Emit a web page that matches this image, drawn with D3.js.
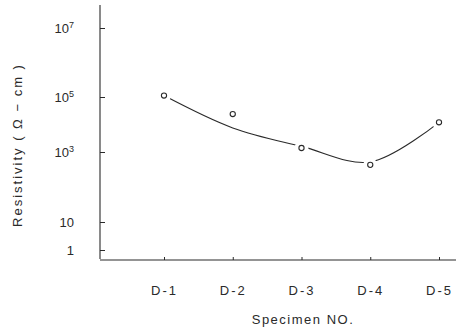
<!DOCTYPE html>
<html><head><meta charset="utf-8">
<script src="https://cdn.jsdelivr.net/npm/d3@7"></script>
<style>body{margin:0;background:#fff}svg{display:block}</style>
</head><body>
<svg id="c" width="462" height="331"></svg>
<script>
const categories = ["D-1","D-2","D-3","D-4","D-5"];
const resistivity = [1.1e5, 2.4e4, 1.4e3, 4.3e2, 1.2e4];
const trend = [1.1e5, 7.5e3, 1.6e3, 5.2e2, 1.2e4];
const yTickValues = [1, 10, 1e3, 1e5, 1e7];
const yTickBase = ["1", "10", "10", "10", "10"];
const yTickExp = ["", "", "3", "5", "7"];
const xTitle = "Specimen NO.";
const yTitle = "Resistivity ( \u03A9 \u2212 cm )";

const svg = d3.select("#c");
const ink = "#2a2a2a";
const font = "Liberation Sans, Arial, sans-serif";

const x = d3.scalePoint().domain(categories).range([164, 439]);
const y = d3.scaleLog().domain([1, 10, 1e3, 1e5, 1e7, 5e7]).range([250, 222, 152, 97, 28, 5]);

// y axis
svg.append("line").attr("x1",100).attr("x2",100).attr("y1",5).attr("y2",259)
  .attr("stroke",ink).attr("stroke-width",1.1);
const ya = svg.append("g").attr("transform","translate(100,0)")
  .call(d3.axisLeft(y).tickValues(yTickValues).tickSizeInner(-5).tickSizeOuter(0).tickPadding(26).tickFormat(""));
ya.select(".domain").remove();
ya.selectAll(".tick line").attr("stroke",ink);
ya.selectAll(".tick text").each(function(d,i){
  const t = d3.select(this).attr("font-family",font).attr("font-size",13).attr("fill",ink);
  t.append("tspan").text(yTickBase[i]);
  if (yTickExp[i]) t.append("tspan").attr("dy","-0.5em").attr("font-size",9).text(yTickExp[i]);
});

// x axis
svg.append("line").attr("x1",100).attr("x2",456).attr("y1",260).attr("y2",260)
  .attr("stroke",ink).attr("stroke-width",1.1);
const xa = svg.append("g").attr("transform","translate(0,260)")
  .call(d3.axisBottom(x).tickSizeInner(-3).tickSizeOuter(0).tickPadding(26));
xa.select(".domain").remove();
xa.selectAll(".tick line").attr("stroke",ink);
xa.selectAll(".tick text").attr("font-family",font).attr("font-size",13)
  .attr("letter-spacing",2).attr("fill",ink);

// titles
svg.append("text").attr("x",303).attr("y",324).attr("text-anchor","middle")
  .attr("font-family",font).attr("font-size",13).attr("letter-spacing",1.5).attr("fill",ink).text(xTitle);
svg.append("text").attr("transform","translate(22,145) rotate(-90)").attr("text-anchor","middle")
  .attr("font-family",font).attr("font-size",13).attr("letter-spacing",2).attr("fill",ink).text(yTitle);

// trend curve
const line = d3.line().x((d,i)=>x(categories[i])).y(d=>y(d)).curve(d3.curveCatmullRom);
svg.append("path").datum(trend).attr("d",line).attr("fill","none").attr("stroke",ink).attr("stroke-width",1.1);

// markers with gap halo
svg.selectAll("circle.halo").data(resistivity).join("circle").attr("class","halo")
  .attr("cx",(d,i)=>x(categories[i])).attr("cy",d=>y(d)).attr("r",7).attr("fill","#fff");
svg.selectAll("circle.pt").data(resistivity).join("circle").attr("class","pt")
  .attr("cx",(d,i)=>x(categories[i])).attr("cy",d=>y(d)).attr("r",2.6)
  .attr("fill","#fff").attr("stroke",ink).attr("stroke-width",1.1);
</script>
</body></html>
